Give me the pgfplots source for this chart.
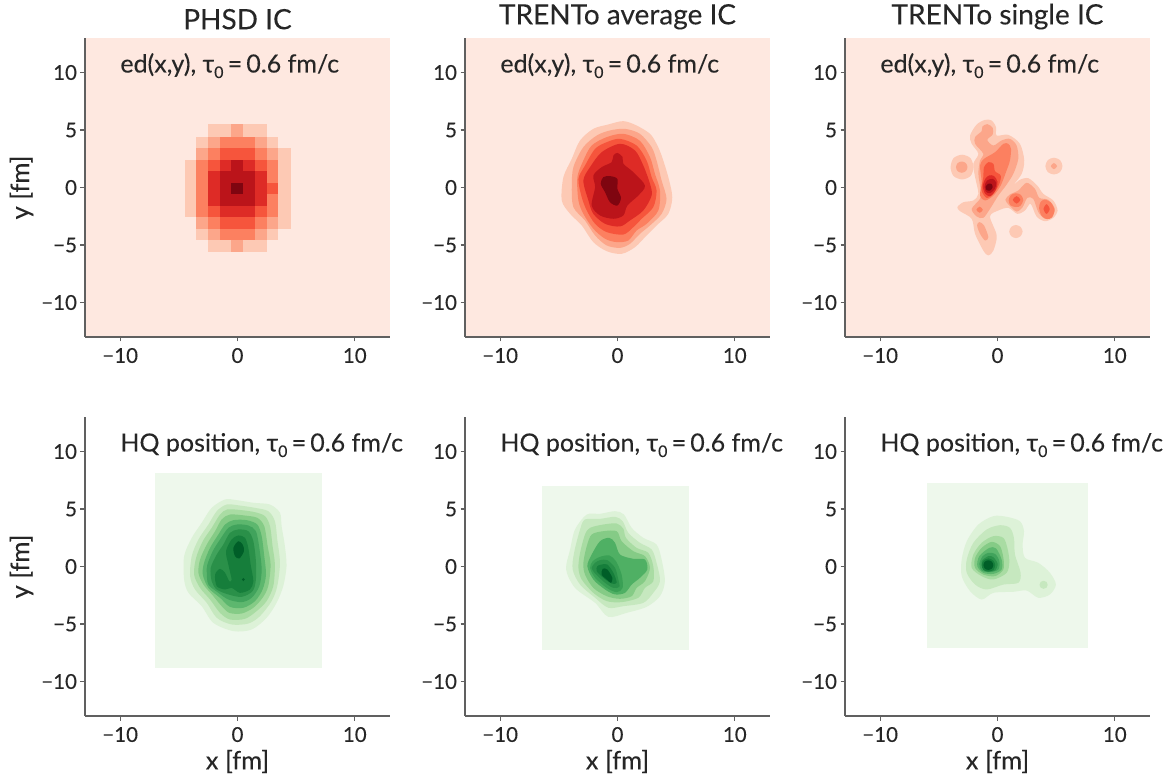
\documentclass[border=0pt]{standalone}
\usepackage{fontspec}
\setmainfont{Lato}[FakeBold=0.12]
\usepackage{pgfplots}
\pgfplotsset{compat=1.18}
\definecolor{txt}{HTML}{262626}
\definecolor{spine}{HTML}{606060}
\definecolor{rbg}{HTML}{FEE8E0}
\definecolor{r1}{HTML}{FDC9B4}
\definecolor{r2}{HTML}{FCA68A}
\definecolor{r3}{HTML}{FC8060}
\definecolor{r4}{HTML}{F6553C}
\definecolor{r5}{HTML}{DE2B26}
\definecolor{r6}{HTML}{BB141A}
\definecolor{r7}{HTML}{7F0510}
\definecolor{gbg}{HTML}{EEF8EC}
\definecolor{g1}{HTML}{DDF2D8}
\definecolor{g2}{HTML}{C6E8BF}
\definecolor{g3}{HTML}{A9DCA3}
\definecolor{g4}{HTML}{85CB86}
\definecolor{g5}{HTML}{5DB76E}
\definecolor{g5b}{HTML}{4FB064}
\definecolor{g6}{HTML}{41A35C}
\definecolor{g6b}{HTML}{3AA055}
\definecolor{g7}{HTML}{2A9049}
\definecolor{g8}{HTML}{167E3B}
\definecolor{g9}{HTML}{005E28}
\newcommand{\tauz}{τ\raisebox{-0.22em}{\fontsize{16}{16}\selectfont 0}\,=\,0.6 fm/c}
\tikzset{ann/.style={anchor=base west, inner sep=0pt, font=\fontsize{25}{27}\selectfont, text=txt}}
\pgfplotsset{
  panel/.style={
    anchor=south west, width=305pt, height=299pt, scale only axis, clip mode=individual,
    xmin=-13, xmax=13, ymin=-13, ymax=13,
    axis lines*=left, axis line style={spine, line width=1.15pt, -},
    tick align=outside, major tick length=4.5pt,
    tick style={spine, line width=1.15pt},
    xtick={-10,0,10}, ytick={-10,-5,0,5,10},
    xticklabels={−10,0,10}, yticklabels={−10,−5,0,5,10},
    ticklabel style={font=\fontsize{20.5}{21}\selectfont, text=txt},
    xticklabel style={yshift=-3pt},
    title style={font=\fontsize{28}{29}\selectfont, text=txt, yshift=-1pt},
    label style={font=\fontsize{25.5}{27}\selectfont, text=txt},
    xlabel style={yshift=-1pt},
    ylabel style={yshift=1pt},
  },
  a/.style={fill=#1, draw=none, smooth cycle},
}
\begin{document}
\begin{tikzpicture}[x=1pt,y=1pt]
\path[use as bounding box] (0,0) rectangle (1176,774);

% ---------- PHSD energy density
\begin{axis}[panel, at={(85pt,437pt)}, title={PHSD IC}, ylabel={y [fm]},
  axis background/.style={fill=rbg},
  colormap={heat}{rgb255(0)=(254,232,224) rgb255(1)=(253,201,180) rgb255(2)=(252,166,138) rgb255(3)=(252,128,96) rgb255(4)=(246,85,60) rgb255(5)=(222,43,38) rgb255(6)=(187,20,26) rgb255(7)=(127,5,16)},
  point meta min=0, point meta max=7]
\addplot[matrix plot*, mesh/cols=9, point meta=explicit] coordinates {
(-4,-5)[0] (-3,-5)[0] (-2,-5)[1] (-1,-5)[1] (0,-5)[2] (1,-5)[1] (2,-5)[1] (3,-5)[0] (4,-5)[0]
(-4,-4)[0] (-3,-4)[1] (-2,-4)[2] (-1,-4)[3] (0,-4)[3] (1,-4)[3] (2,-4)[2] (3,-4)[1] (4,-4)[0]
(-4,-3)[0] (-3,-3)[2] (-2,-3)[3] (-1,-3)[4] (0,-3)[4] (1,-3)[4] (2,-3)[3] (3,-3)[2] (4,-3)[1]
(-4,-2)[1] (-3,-2)[3] (-2,-2)[4] (-1,-2)[5] (0,-2)[5] (1,-2)[5] (2,-2)[4] (3,-2)[3] (4,-2)[1]
(-4,-1)[1] (-3,-1)[3] (-2,-1)[5] (-1,-1)[6] (0,-1)[6] (1,-1)[6] (2,-1)[5] (3,-1)[3] (4,-1)[1]
(-4,0)[1] (-3,0)[3] (-2,0)[5] (-1,0)[6] (0,0)[7] (1,0)[6] (2,0)[5] (3,0)[4] (4,0)[1]
(-4,1)[1] (-3,1)[3] (-2,1)[5] (-1,1)[6] (0,1)[6] (1,1)[6] (2,1)[5] (3,1)[3] (4,1)[1]
(-4,2)[1] (-3,2)[3] (-2,2)[4] (-1,2)[5] (0,2)[6] (1,2)[5] (2,2)[4] (3,2)[3] (4,2)[1]
(-4,3)[0] (-3,3)[2] (-2,3)[3] (-1,3)[4] (0,3)[4] (1,3)[4] (2,3)[3] (3,3)[2] (4,3)[1]
(-4,4)[0] (-3,4)[1] (-2,4)[2] (-1,4)[3] (0,4)[3] (1,4)[3] (2,4)[2] (3,4)[1] (4,4)[0]
(-4,5)[0] (-3,5)[0] (-2,5)[1] (-1,5)[1] (0,5)[2] (1,5)[1] (2,5)[1] (3,5)[0] (4,5)[0]
};
\node[ann] at (axis cs:-10,10) {ed(x,y), \tauz};
\end{axis}

% ---------- TRENTo average energy density
\begin{axis}[panel, at={(465pt,437pt)}, title={TRENTo average IC},
  axis background/.style={fill=rbg}]
\addplot[a=r1] coordinates {(.5,5.77)(1.63,5.39)(2.77,4.67)(3.33,3.8)(3.76,2.78)(4.33,.9)(4.67,-.84)(4.33,-2.29)(3.33,-3.3)(2.48,-4.17)(1.49,-5.19)(.35,-5.77)(-.92,-5.54)(-2.06,-4.75)(-3.05,-3.3)(-4.04,-2.29)(-4.75,-1.13)(-4.61,.9)(-3.9,2.49)(-3.19,4.09)(-2.06,5.1)(-.78,5.48)};
\addplot[a=r2] coordinates {(.64,5.1)(1.91,4.67)(2.91,3.51)(3.33,2.35)(3.76,.61)(4.18,-.99)(3.76,-2.29)(2.77,-3.3)(1.91,-4.03)(1.06,-4.9)(.21,-5.25)(-.92,-5.04)(-1.91,-4.17)(-2.77,-2.87)(-3.76,-1.71)(-3.9,.03)(-3.76,1.77)(-2.91,3.51)(-1.77,4.52)(-.64,4.96)};
\addplot[a=r3] coordinates {(.5,4.67)(1.91,4.06)(2.77,2.64)(3.19,1.19)(3.62,-.26)(3.48,-2)(2.48,-3.16)(1.63,-3.74)(.92,-4.61)(-.07,-4.75)(-1.06,-4.46)(-2.06,-3.59)(-2.91,-2.29)(-3.33,-1.13)(-3.42,.9)(-2.91,2.35)(-2.2,3.65)(-.92,4.38)};
\addplot[a=r4] coordinates {(.21,4.23)(1.63,3.65)(2.48,2.35)(2.91,.9)(3.33,-.26)(3.05,-1.71)(2.06,-2.72)(1.35,-3.45)(.5,-4.09)(-.92,-3.88)(-1.91,-3.16)(-2.62,-2)(-3.05,-.84)(-3.33,.75)(-2.77,1.91)(-1.91,3.36)(-.92,3.94)};
\addplot[a=r5] coordinates {(.21,3.8)(1.49,3.22)(2.2,1.91)(2.77,.32)(2.91,-.7)(2.2,-2)(1.06,-2.87)(.21,-3.39)(-1.06,-3.16)(-2.06,-2.29)(-2.48,-1.13)(-2.91,.61)(-2.34,1.77)(-1.35,3.07)};
\addplot[a=r6] coordinates {(-.01,3.01)(.44,2.64)(.5,2.06)(1.35,1.33)(2.34,.17)(1.77,-.7)(.84,-1.57)(.5,-2.43)(-.35,-2.72)(-1.49,-2.43)(-2.2,-1.57)(-1.91,.03)(-2.06,1.04)(-1.35,1.77)(-.5,2.2)(-.35,2.78)};
\addplot[a=r7] coordinates {(-.64,.99)(-.01,.75)(-.01,-.12)(.3,-.9)(-.01,-1.57)(-.64,-1.28)(-1.06,-.41)(-1.43,.32)(-1.21,.9)};
\node[ann] at (axis cs:-10,10) {ed(x,y), \tauz};
\end{axis}

% ---------- TRENTo single energy density
\begin{axis}[panel, at={(845pt,437pt)}, title={TRENTo single IC},
  axis background/.style={fill=rbg}]
\addplot[a=r1] coordinates {(-1.06,5.88)(-.5,5.83)(-.13,5.25)(-.07,4.52)(.92,4.58)(1.91,3.8)(2.28,2.35)(2.06,1.19)(1.4,.26)(1.91,.67)(2.62,.81)(3.39,.17)(3.9,-.55)(4.75,-1.13)(5.12,-2)(4.75,-2.64)(4.04,-2.93)(3.33,-2.52)(2.82,-1.42)(2.34,-2)(1.69,-2.29)(.92,-1.77)(.07,-2)(-.64,-2.52)(-.07,-4.17)(-.35,-5.48)(-.78,-5.91)(-1.21,-5.48)(-1.91,-4.03)(-2.2,-2.72)(-3.19,-2.06)(-3.42,-1.71)(-2.91,-1.28)(-2.06,-1.13)(-1.63,-.55)(-1.91,.9)(-2.06,2.06)(-1.63,2.93)(-2.2,3.8)(-2.34,4.52)(-1.77,5.48)};
\addplot[a=r1] coordinates {(-3.02,2.85)(-2.3,2.55)(-2.05,1.75)(-2.3,1)(-3.02,.7)(-3.75,1)(-4,1.75)(-3.75,2.55)};
\addplot[a=r1] coordinates {(4.81,2.59)(5.33,2.38)(5.54,1.86)(5.33,1.34)(4.81,1.13)(4.29,1.34)(4.08,1.86)(4.29,2.38)};
\addplot[a=r1] coordinates {(1.57,-3.26)(1.97,-3.43)(2.14,-3.83)(1.97,-4.23)(1.57,-4.4)(1.17,-4.23)(1,-3.83)(1.17,-3.43)};
\addplot[a=r2] coordinates {(-3.05,2.26)(-2.7,2.12)(-2.56,1.77)(-2.7,1.42)(-3.05,1.28)(-3.4,1.42)(-3.54,1.77)(-3.4,2.12)};
\addplot[a=r2] coordinates {(4.81,2.13)(5.08,1.86)(4.81,1.59)(4.54,1.86)};
\addplot[a=r2] coordinates {(-.87,5.51)(-.41,5.19)(-.41,4.61)(-.87,4.14)(-.35,3.65)(.35,4.09)(1.06,4.23)(1.63,3.65)(1.77,2.49)(1.35,1.19)(.72,.17)(.07,-.7)(-.64,-1.86)(-1.21,-2.64)(-1.77,-2.52)(-2.2,-1.86)(-1.49,-.99)(-1.43,-.26)(-1.63,1.19)(-1.49,2.35)(-1.21,2.93)(-1.91,3.8)(-1.91,4.38)(-1.35,4.9)(-1.29,5.3)};
\addplot[a=r2] coordinates {(.67,-1.07)(1.06,-.61)(1.77,-.26)(2.48,.41)(3.19,-.12)(3.56,-.9)(4.33,-1.07)(4.89,-1.86)(4.61,-2.58)(4.04,-2.72)(3.48,-2.14)(3.05,-.99)(2.54,-.9)(2.14,-1.71)(1.63,-2.09)(1.01,-1.57)};
\addplot[a=r2] coordinates {(-1.55,-3.01)(-1.15,-3.3)(-.78,-4.32)(-1.06,-4.61)(-1.49,-4.03)(-1.74,-3.3)};
\addplot[a=r3] coordinates {(.92,3.8)(1.15,3.36)(1.06,2.35)(.72,1.33)(.27,.17)(-.35,-.7)(-1.06,-1.13)(-1.49,-.7)(-1.35,.46)(-1.49,1.91)(-1.15,2.49)(-.21,3.07)(.5,3.8)};
\addplot[a=r3] coordinates {(1.57,-.5)(2,-.65)(2.2,-1.1)(1.95,-1.6)(1.57,-1.7)(1.1,-1.55)(.95,-1.1)(1.15,-.65)};
\addplot[a=r3] coordinates {(4,-1.05)(4.55,-1.3)(4.85,-1.95)(4.65,-2.6)(4.2,-2.75)(3.75,-2.45)(3.55,-1.8)(3.65,-1.3)};
\addplot[a=r3] coordinates {(-1.52,-1.67)(-1.25,-1.94)(-1.52,-2.2)(-1.8,-1.94)};
\addplot[a=r4] coordinates {(-.78,2.2)(-.35,2.06)(-.21,1.42)(.27,1.04)(.16,.32)(-.35,-.55)(-.92,-.9)(-1.35,-.26)(-1.21,.9)(-1.15,1.77)};
\addplot[a=r4] coordinates {(1.63,-.75)(1.95,-1.07)(1.63,-1.4)(1.3,-1.07)};
\addplot[a=r4] coordinates {(4.18,-1.45)(4.45,-1.88)(4.18,-2.3)(3.92,-1.88)};
\addplot[a=r5] coordinates {(-.3,1)(0,.5)(-.15,-.2)(-.6,-.75)(-1.05,-.55)(-1.25,.1)(-1.05,.75)(-.7,1.05)};
\addplot[a=r6] coordinates {(-.4,.75)(-.1,.4)(-.25,-.15)(-.65,-.5)(-1,-.35)(-1.1,.1)(-.9,.6)};
\addplot[a=r7] coordinates {(-.5,.3)(-.42,0)(-.65,-.28)(-.95,-.2)(-1.02,.05)(-.8,.32)};
\node[ann] at (axis cs:-10,10) {ed(x,y), \tauz};
\end{axis}

% ---------- PHSD HQ position
\begin{axis}[panel, at={(85pt,58pt)}, xlabel={x [fm]}, ylabel={y [fm]}]
\addplot[fill=gbg, draw=none] coordinates {(-7.05,8.13)(7.19,8.13)(7.19,-8.8)(-7.05,-8.8)} -- cycle;
\addplot[a=g1] coordinates {(-1.06,5.83)(-.07,5.77)(1.35,5.54)(2.77,5.39)(3.62,4.67)(3.76,3.51)(4.04,1.77)(4.18,.03)(3.9,-1.71)(3.33,-3.16)(2.48,-4.46)(1.21,-5.48)(-.35,-5.62)(-2.06,-4.9)(-3.05,-3.45)(-4.18,-2.29)(-4.55,-1.13)(-4.55,.9)(-3.9,2.49)(-3.05,3.8)(-2.2,5.1)};
\addplot[a=g2] coordinates {(-.92,5.39)(.21,5.3)(1.49,5.1)(2.62,4.81)(3.19,3.94)(3.39,2.35)(3.62,.32)(3.39,-1.71)(2.91,-3.01)(1.91,-4.32)(.92,-4.96)(-.5,-5.04)(-1.77,-4.46)(-2.62,-3.16)(-3.62,-2)(-4.04,-.84)(-3.9,.9)(-3.33,2.35)(-2.48,3.65)(-1.77,4.81)};
\addplot[a=g3] coordinates {(-.87,4.96)(.35,4.9)(1.49,4.72)(2.34,4.38)(2.77,3.51)(2.99,1.77)(3.19,.17)(3.05,-1.71)(2.48,-3.01)(1.63,-3.88)(.64,-4.55)(-.64,-4.61)(-1.49,-4.03)(-2.34,-2.87)(-3.19,-1.86)(-3.7,-.7)(-3.53,.75)(-2.96,2.2)(-2.2,3.36)(-1.49,4.52)};
\addplot[a=g4] coordinates {(-.64,4.52)(.64,4.43)(1.69,4.23)(2.28,3.51)(2.57,1.77)(2.82,.17)(2.62,-1.71)(2.14,-2.72)(1.35,-3.59)(.35,-4.09)(-.7,-4.03)(-1.35,-3.45)(-2.11,-2.52)(-2.91,-1.57)(-3.33,-.55)(-3.19,.61)(-2.62,1.91)(-1.91,3.07)(-1.35,4.09)};
\addplot[a=g5] coordinates {(-.35,4.03)(.78,4.03)(1.69,3.65)(2.06,2.64)(2.28,.9)(2.43,-.7)(2.14,-2)(1.49,-3.01)(.5,-3.59)(-.64,-3.51)(-1.49,-2.72)(-2.48,-1.86)(-2.96,-.7)(-2.85,.32)(-2.34,1.62)(-1.63,2.78)(-1.06,3.65)};
\addplot[a=g6] coordinates {(-.07,3.65)(.92,3.57)(1.57,3.07)(1.86,1.62)(2.06,-.26)(1.86,-1.71)(1.21,-2.72)(.35,-3.1)(-.78,-2.87)(-1.63,-2.29)(-2.48,-1.57)(-2.62,-.55)(-2.57,.17)(-2.11,1.33)(-1.49,2.35)(-.78,3.36)};
\addplot[a=g7] coordinates {(.07,3.22)(.92,3.07)(1.35,2.2)(1.57,.46)(1.57,-1.13)(1.29,-2.14)(.35,-2.64)(-.78,-2.43)(-1.77,-2)(-2.2,-1.28)(-2.28,-.12)(-1.77,1.04)(-1.21,1.91)(-.64,2.93)};
\addplot[a=g8] coordinates {(.07,2.7)(.64,2.49)(.92,1.62)(1.12,.17)(1.35,-1.28)(1.06,-2)(.21,-2.29)(-.5,-1.86)(-1.06,-2)(-1.77,-1.71)(-1.91,-.7)(-1.49,-.2)(-1.06,-.55)(-.7,-1.28)(-.5,-1.13)(-.78,.17)(-.98,1.33)(-.5,2.35)};
\addplot[a=g9] coordinates {(.07,2.2)(.44,1.91)(.55,1.33)(.16,.7)(-.21,.9)(-.35,1.62)};
\addplot[a=g9] coordinates {(.5,-1)(.62,-1.13)(.5,-1.28)(.38,-1.13)};
\node[ann] at (axis cs:-10,10) {HQ position, \tauz};
\end{axis}

% ---------- TRENTo average HQ position
\begin{axis}[panel, at={(465pt,58pt)}, xlabel={x [fm]}]
\addplot[fill=gbg, draw=none] coordinates {(-6.43,6.96)(6.09,6.96)(6.09,-7.22)(-6.43,-7.22)} -- cycle;
\addplot[a=g1] coordinates {(-2.62,4.52)(-1.49,4.58)(-.21,4.81)(.55,4.52)(1.21,3.36)(2.2,2.49)(3.33,1.91)(3.76,.61)(4.04,-1.28)(3.62,-2.58)(2.48,-3.51)(.78,-4.03)(-.78,-4.38)(-1.91,-3.16)(-3.62,-1.86)(-4.38,-.26)(-4.04,1.48)(-3.62,3.22)};
\addplot[a=g2] coordinates {(-2.77,4.09)(-1.49,4.14)(-.21,4.32)(.44,3.94)(.92,2.93)(1.91,2.06)(2.91,1.48)(3.33,.32)(3.62,-1.28)(3.05,-2.29)(2.2,-3.16)(.5,-3.45)(-.78,-3.59)(-1.91,-2.72)(-3.19,-1.57)(-3.82,-.26)(-3.7,1.19)(-3.19,3.22)};
\addplot[a=g3] coordinates {(-2.34,3.36)(-1.21,3.65)(-.07,3.74)(.5,3.28)(.72,2.49)(1.63,1.62)(2.62,1.19)(3.05,.03)(3.05,-1.28)(2.34,-1.86)(1.77,-2.72)(.35,-3.1)(-.92,-3.01)(-2.06,-2.29)(-3.05,-1.13)(-3.33,-.12)(-3.19,1.19)(-2.77,2.78)};
\addplot[a=g4] coordinates {(-2.2,2.78)(-1.21,3.07)(-.07,3.07)(.35,2.2)(1.35,1.33)(2.34,.9)(2.77,-.12)(2.34,-1.28)(1.63,-1.86)(1.21,-2.58)(.21,-2.81)(-.92,-2.58)(-2.06,-1.86)(-2.77,-.7)(-2.91,.32)(-2.62,1.77)};
\addplot[a=g5b] coordinates {(-1.49,2.2)(-.7,2.49)(-.21,2.06)(.21,1.04)(1.35,.67)(2.34,.61)(2.54,-.26)(1.91,-.99)(1.21,-1.57)(.64,-2.29)(-.21,-2.43)(-1.06,-2)(-2.06,-1.13)(-2.57,.03)(-2.2,1.04)};
\addplot[a=g6b] coordinates {(-1.49,.84)(-.7,.96)(-.13,.46)(.35,-.7)(.44,-1.86)(-.07,-2.23)(-.92,-1.86)(-1.91,-.99)(-2.34,-.12)(-2.11,.46)};
\addplot[a=g7] coordinates {(-1.49,.55)(-.87,.55)(-.21,-.12)(.07,-1.13)(.16,-1.77)(-.35,-1.86)(-1.06,-1.42)(-1.91,-.61)(-2.2,-.12)(-1.91,.32)};
\addplot[a=g8] coordinates {(-1.35,.17)(-.87,.17)(-.35,-.55)(-.07,-1.42)(-.5,-1.48)(-1.21,-.99)(-1.77,-.41)(-1.72,.03)};
\addplot[a=g9] coordinates {(-1.26,-.2)(-.87,-.26)(-.44,-.99)(-.55,-1.42)(-.92,-1.13)(-1.35,-.7)};
\node[ann] at (axis cs:-10,10) {HQ position, \tauz};
\end{axis}

% ---------- TRENTo single HQ position
\begin{axis}[panel, at={(845pt,58pt)}, xlabel={x [fm]}]
\addplot[fill=gbg, draw=none] coordinates {(-6,7.3)(7.7,7.3)(7.7,-7.13)(-6,-7.13)} -- cycle;
\addplot[a=g1] coordinates {(-.35,4.38)(.78,4.32)(1.91,3.94)(2.26,3.07)(2.14,1.91)(2.34,.75)(3.48,.32)(4.47,-.55)(4.98,-1.57)(4.47,-2.43)(3.48,-2.72)(2.48,-2.09)(1.35,-2.2)(-.35,-2.29)(-1.35,-2.87)(-2.34,-2.14)(-3.05,-.84)(-3.05,.61)(-2.62,2.2)(-1.63,3.65)};
\addplot[a=g2] coordinates {(.21,3.59)(1.06,3.36)(1.4,2.49)(1.49,1.04)(1.97,-.55)(1.77,-1.42)(.5,-1.57)(-.92,-2)(-1.91,-1.57)(-2.62,-.55)(-2.62,.61)(-2.06,2.06)(-.92,3.22)};
\addplot[a=g2] coordinates {(3.93,-1.24)(4.18,-1.34)(4.28,-1.59)(4.18,-1.84)(3.93,-1.94)(3.68,-1.84)(3.58,-1.59)(3.68,-1.34)};
\addplot[a=g3] coordinates {(-.35,2.64)(.5,2.49)(.84,1.62)(1.01,.46)(.78,-.55)(-.35,-1.13)(-1.35,-.84)(-2.2,-.12)(-2.06,1.04)(-1.35,2.06)};
\addplot[a=g4] coordinates {(-.5,2.14)(.21,1.77)(.5,.75)(.5,-.26)(-.21,-.84)(-1.21,-.7)(-1.91,-.12)(-1.91,.75)(-1.35,1.62)};
\addplot[a=g5] coordinates {(-.7,1.62)(-.13,1.57)(.35,.61)(.35,-.26)(-.35,-.64)(-1.21,-.55)(-1.72,.03)(-1.55,.9)};
\addplot[a=g6] coordinates {(-.78,1.19)(-.21,1.1)(.16,.46)(.07,-.26)(-.64,-.49)(-1.35,-.35)(-1.55,.23)(-1.26,.9)};
\addplot[a=g7] coordinates {(-.78,.9)(-.35,.81)(.01,.23)(-.21,-.35)(-.78,-.41)(-1.26,-.12)(-1.35,.46)};
\addplot[a=g8] coordinates {(-.78,.7)(-.35,.5)(-.2,.12)(-.35,-.3)(-.78,-.45)(-1.2,-.3)(-1.35,.12)(-1.2,.5)};
\addplot[a=g9] coordinates {(-.78,.54)(-.48,.42)(-.36,.12)(-.48,-.18)(-.78,-.3)(-1.08,-.18)(-1.2,.12)(-1.08,.42)};
\node[ann] at (axis cs:-10,10) {HQ position, \tauz};
\end{axis}
\end{tikzpicture}
\end{document}
